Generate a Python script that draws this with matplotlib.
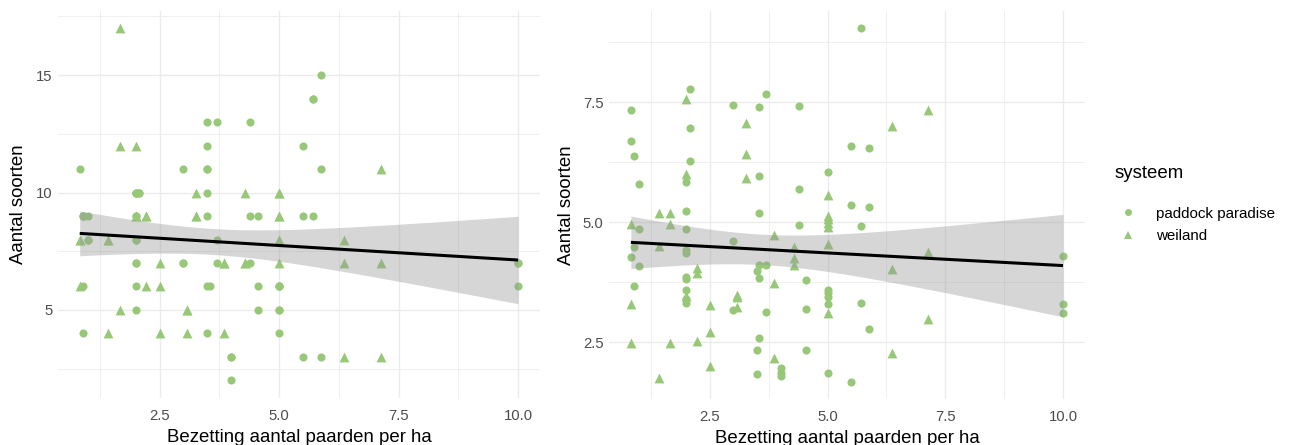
import math
import numpy as np
import matplotlib
matplotlib.use("Agg")
import matplotlib.pyplot as plt
from matplotlib.lines import Line2D

plt.rcParams["font.family"] = ["Liberation Sans", "DejaVu Sans"]

# ---------------- data ----------------
# Left panel: number of species per sample (integer counts; identical
# samples on the same farm overlap exactly)
left_pp_x = [5.88, 5.7, 3.5, 3.7, 4.4, 3.5, 5.5, 0.83, 3.0, 3.5, 5.88,
             2.0, 2.08, 3.5, 0.9, 1.0, 2.0, 3.5, 4.4, 4.55, 5.5, 5.7,
             1.0, 2.0, 3.7, 2.0, 3.0, 3.7, 4.4, 10.0,
             0.9, 2.0, 3.5, 3.55, 4.55, 5.0, 10.0, 2.0, 4.55, 5.0,
             0.9, 3.5, 5.0, 4.0, 5.5, 5.88, 4.0,
             0.9, 1.0, 0.9, 2.0, 2.0, 2.0, 2.0, 2.0, 2.08,
             3.0, 3.5, 4.0, 5.0, 5.0, 5.0, 5.7, 10.0]
left_pp_y = [15, 14, 13, 13, 13, 12, 12, 11, 11, 11, 11,
             10, 10, 10, 9, 9, 9, 9, 9, 9, 9, 9,
             8, 8, 8, 7, 7, 7, 7, 7,
             6, 6, 6, 6, 6, 6, 6, 5, 5, 5,
             4, 4, 4, 3, 3, 3, 2,
             9, 8, 9, 10, 9, 8, 7, 10, 10,
             7, 11, 3, 6, 6, 5, 14, 7]
left_wl_x = [1.67, 1.67, 2.0, 7.14, 3.26, 4.29, 5.0, 2.0, 2.22, 3.26, 5.0,
             0.83, 1.43, 5.0, 6.36, 2.5, 3.85, 4.29, 5.0, 6.36, 7.14,
             0.83, 2.22, 2.5, 1.67, 3.08, 1.43, 2.5, 3.08, 3.85, 6.36, 7.14,
             0.83, 1.43, 2.0, 2.22, 3.08, 3.26, 3.85, 4.29, 5.0, 5.0, 5.0]
left_wl_y = [17, 12, 12, 11, 10, 10, 10, 9, 9, 9, 9,
             8, 8, 8, 8, 7, 7, 7, 7, 7, 7,
             6, 6, 6, 5, 5, 4, 4, 4, 4, 3, 3,
             8, 8, 9, 9, 5, 9, 7, 7, 8, 10, 9]

# Right panel: species per sample
right_pp_x = [0.83, 0.83, 0.83, 0.88, 0.88, 0.88, 0.99, 0.99, 0.99,
              2.08, 2.08, 2.08, 2.0, 2.0, 2.0, 2.0, 2.0, 2.0, 2.0, 2.0, 2.0, 2.0,
              3.0, 3.0, 3.0, 3.5, 3.5, 3.5,
              3.55, 3.55, 3.55, 3.55, 3.55, 3.55, 3.7, 3.7, 3.7,
              4.0, 4.0, 4.0, 4.4, 4.4, 4.4, 4.55, 4.55, 4.55,
              5.0, 5.0, 5.0, 5.0, 5.0, 5.0, 5.5, 5.5, 5.5,
              5.7, 5.7, 5.7, 5.88, 5.88, 5.88, 10.0, 10.0, 10.0]
right_pp_y = [7.33, 6.70, 4.27, 6.37, 4.48, 3.68, 5.80, 4.87, 4.08,
              7.78, 6.97, 6.27, 5.83, 5.24, 4.85, 4.42, 4.35, 3.87, 3.81, 3.60, 3.40, 3.31,
              7.45, 4.62, 3.17, 3.99, 2.33, 1.85,
              7.40, 5.96, 5.20, 4.12, 3.84, 2.60, 7.67, 4.12, 3.13,
              1.97, 1.87, 1.80, 7.43, 5.69, 4.94, 3.79, 3.20, 2.33,
              6.04, 3.60, 3.52, 3.45, 3.29, 1.87, 6.58, 5.36, 1.68,
              9.04, 4.92, 3.31, 6.54, 5.31, 2.77, 4.30, 3.29, 3.12]
right_wl_x = [0.82, 0.82, 0.82, 1.42, 1.42, 1.42, 1.66, 1.66, 1.66,
              2.0, 2.0, 2.0, 2.22, 2.22, 2.22, 2.5, 2.5, 2.5,
              3.07, 3.07, 3.07, 3.26, 3.26, 3.26, 3.85, 3.85, 3.85,
              4.28, 4.28, 4.28, 5.0, 5.0, 5.0, 5.0, 5.0, 5.0, 5.0,
              6.36, 6.36, 6.36, 7.14, 7.14, 7.14]
right_wl_y = [4.96, 3.30, 2.49, 5.19, 4.51, 1.76, 5.19, 4.96, 2.48,
              7.56, 6.00, 3.46, 4.04, 3.95, 2.53, 3.27, 2.71, 2.01,
              3.49, 3.44, 3.24, 7.06, 6.43, 5.93, 4.74, 3.74, 2.17,
              4.49, 4.25, 4.10, 5.56, 5.13, 5.06, 4.99, 4.90, 4.54, 3.12,
              7.01, 4.02, 2.27, 7.34, 4.39, 2.98]

x_ticks = [2.5, 5.0, 7.5, 10.0]
x_tick_labels = ["2.5", "5.0", "7.5", "10.0"]
left_y_ticks = [5, 10, 15]
left_y_labels = ["5", "10", "15"]
right_y_ticks = [2.5, 5.0, 7.5]
right_y_labels = ["2.5", "5.0", "7.5"]

x_title = "Bezetting aantal paarden per ha"
y_title = "Aantal soorten"
legend_title = "systeem"
groups = ["paddock paradise", "weiland"]

# ---------------- styling ----------------
GREEN = "#97C877"
GRID = "#EBEBEB"
TICK_COL = "#4D4D4D"


def t_quantile(p, df):
    """Quantile of Student's t distribution via numeric integration."""
    c = math.exp(math.lgamma((df + 1) / 2) - math.lgamma(df / 2)) / math.sqrt(df * math.pi)
    grid = np.linspace(0, 10, 200001)
    pdf = c * (1 + grid ** 2 / df) ** (-(df + 1) / 2)
    cdf = 0.5 + np.concatenate([[0], np.cumsum((pdf[1:] + pdf[:-1]) / 2 * np.diff(grid))])
    return float(np.interp(p, cdf, grid))


def lm_band(x, y, xs, level=0.95):
    x = np.asarray(x, float)
    y = np.asarray(y, float)
    n = len(x)
    b1, b0 = np.polyfit(x, y, 1)
    resid = y - (b0 + b1 * x)
    s = math.sqrt(np.sum(resid ** 2) / (n - 2))
    sxx = np.sum((x - x.mean()) ** 2)
    fit = b0 + b1 * xs
    se = s * np.sqrt(1 / n + (xs - x.mean()) ** 2 / sxx)
    t = t_quantile(0.5 + level / 2, n - 2)
    return fit, fit - t * se, fit + t * se


def panel(ax, pp_x, pp_y, wl_x, wl_y, yticks, ylabels, yminor):
    all_x = np.array(pp_x + wl_x, float)
    all_y = np.array(pp_y + wl_y, float)
    xr = all_x.max() - all_x.min()
    yr = all_y.max() - all_y.min()
    ax.set_xlim(all_x.min() - 0.05 * xr, all_x.max() + 0.05 * xr)
    ax.set_ylim(all_y.min() - 0.05 * yr, all_y.max() + 0.05 * yr)

    ax.scatter(pp_x, pp_y, s=34, marker="o", color=GREEN, linewidths=0, zorder=2)
    ax.scatter(wl_x, wl_y, s=50, marker="^", color=GREEN, linewidths=0, zorder=2)

    # linear model with 95% confidence band
    xs = np.linspace(all_x.min(), all_x.max(), 200)
    fit, lo, hi = lm_band(all_x, all_y, xs)
    ax.fill_between(xs, lo, hi, color="#999999", alpha=0.4, linewidth=0, zorder=3)
    ax.plot(xs, fit, color="black", lw=2.2, zorder=4, solid_capstyle="butt")

    ax.set_xticks(x_ticks)
    ax.set_xticklabels(x_tick_labels)
    ax.set_xticks([1.25, 3.75, 6.25, 8.75], minor=True)
    ax.set_yticks(yticks)
    ax.set_yticklabels(ylabels)
    ax.set_yticks(yminor, minor=True)
    ax.grid(True, which="major", color=GRID, lw=1.0)
    ax.grid(True, which="minor", color=GRID, lw=0.55)
    ax.set_axisbelow(True)
    for sp in ax.spines.values():
        sp.set_visible(False)
    ax.tick_params(which="both", length=0, labelsize=10.7, labelcolor=TICK_COL)
    ax.tick_params(axis="x", pad=8)
    ax.tick_params(axis="y", pad=4)
    ax.set_xlabel(x_title, fontsize=13.4, labelpad=4)
    ax.set_ylabel(y_title, fontsize=13.4, labelpad=6)


fig = plt.figure(figsize=(12.9, 4.45), dpi=100)
ax1 = fig.add_axes([0.0448, 0.1056, 0.3738, 0.8706])
ax2 = fig.add_axes([0.4723, 0.1025, 0.3685, 0.8737])

panel(ax1, left_pp_x, left_pp_y, left_wl_x, left_wl_y,
      left_y_ticks, left_y_labels, [2.5, 7.5, 12.5, 17.5])
panel(ax2, right_pp_x, right_pp_y, right_wl_x, right_wl_y,
      right_y_ticks, right_y_labels, [3.75, 6.25, 8.75])

# legend: title placed separately for ggplot-like spacing
fig.text(0.864, 0.611, legend_title, fontsize=13.4, ha="left", va="center")
handles = [
    Line2D([], [], marker="o", linestyle="none", color=GREEN, markersize=5, markeredgewidth=0),
    Line2D([], [], marker="^", linestyle="none", color=GREEN, markersize=6, markeredgewidth=0),
]
fig.legend(handles, groups, loc="upper left",
           bbox_to_anchor=(0.863, 0.549), frameon=False,
           fontsize=10.9, handlelength=1.2, handletextpad=1.2,
           labelspacing=0.55, borderaxespad=0)

fig.savefig("out.png", dpi=100)
